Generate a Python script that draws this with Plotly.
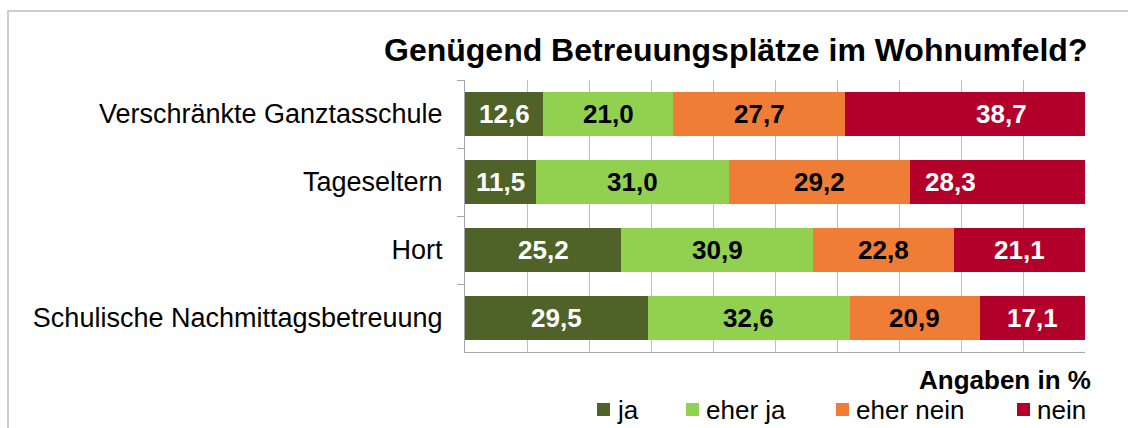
import plotly.graph_objects as go

# Survey answers per childcare type (percent)
categories = [
    "Verschränkte Ganztasschule",
    "Tageseltern",
    "Hort",
    "Schulische Nachmittagsbetreuung",
]
series_names = ["ja", "eher ja", "eher nein", "nein"]
ja = [12.6, 11.5, 25.2, 29.5]
eher_ja = [21.0, 31.0, 30.9, 32.6]
eher_nein = [27.7, 29.2, 22.8, 20.9]
nein = [38.7, 28.3, 21.1, 17.1]

title_text = "Genügend Betreuungsplätze im Wohnumfeld?"
unit_text = "Angaben in %"

series_values = [ja, eher_ja, eher_nein, nein]
colors = ["#4F6228", "#92D050", "#EF7D36", "#B3002A"]
label_colors = ["white", "black", "black", "white"]
FONT = "Liberation Sans, Arial, sans-serif"

W, H = 1128, 428
ML, MR, MT, MB = 465, 43, 80, 76
PW, PH = W - ML - MR, H - MT - MB


def px_x(x):
    return (x - ML) / PW


def px_y(y):
    return (H - MB - y) / PH


fig = go.Figure()
for name, vals, col in zip(series_names, series_values, colors):
    fig.add_trace(go.Bar(
        y=categories, x=vals, name=name, orientation="h",
        marker=dict(color=col, line=dict(width=0)),
        hoverinfo="x+name", showlegend=False,
    ))

# value labels centred in each segment (two of them nudged sideways)
label_shift = {(0, 3): 36, (1, 3): -47}
annotations = []
for ci, cat in enumerate(categories):
    start = 0.0
    for si, vals in enumerate(series_values):
        v = vals[ci]
        annotations.append(dict(
            x=start + v / 2, y=cat, xref="x", yref="y",
            text=f"{v:.1f}".replace(".", ","), showarrow=False,
            xshift=label_shift.get((ci, si), 0),
            font=dict(family=FONT, size=26, color=label_colors[si], weight="bold"),
        ))
        start += v

annotations.append(dict(
    x=px_x(1089), y=px_y(50), xref="paper", yref="paper",
    xanchor="right", yanchor="middle", text=title_text, showarrow=False,
    font=dict(family=FONT, size=32, color="black", weight="bold"),
))
annotations.append(dict(
    x=px_x(1093), y=px_y(380), xref="paper", yref="paper",
    xanchor="right", yanchor="middle", text=unit_text, showarrow=False,
    font=dict(family=FONT, size=26, color="black", weight="bold"),
))

# legend drawn as coloured squares with text
shapes = []
legend_square_x = [597, 686, 836, 1017]
for name, col, sx in zip(series_names, colors, legend_square_x):
    shapes.append(dict(
        type="rect", xref="paper", yref="paper",
        x0=px_x(sx), x1=px_x(sx + 13), y0=px_y(416), y1=px_y(403),
        fillcolor=col, line=dict(width=0),
    ))
    annotations.append(dict(
        x=px_x(sx + 18), y=px_y(410), xref="paper", yref="paper",
        xanchor="left", yanchor="middle", text=name, showarrow=False,
        font=dict(family=FONT, size=26, color="black"),
    ))

# outer chart frame
shapes.append(dict(
    type="rect", xref="paper", yref="paper",
    x0=px_x(8), x1=px_x(1140), y0=px_y(440), y1=px_y(11),
    line=dict(color="#BFBFBF", width=1.5), fillcolor="rgba(0,0,0,0)", layer="below",
))

fig.update_layout(
    width=W, height=H,
    margin=dict(l=ML, r=MR, t=MT, b=MB, pad=0),
    barmode="stack", bargap=0.34,
    paper_bgcolor="white", plot_bgcolor="white",
    font=dict(family=FONT, size=26, color="black"),
    annotations=annotations, shapes=shapes,
    xaxis=dict(
        range=[0, 100], dtick=10, showgrid=True, gridcolor="#BFBFBF", gridwidth=1,
        showticklabels=False, zeroline=False, showline=True, linecolor="#A6A6A6",
        linewidth=1, ticks="",
    ),
    yaxis=dict(
        autorange="reversed", showline=True, linecolor="#A6A6A6", linewidth=1,
        ticks="outside", tickson="boundaries", ticklen=7, tickcolor="#A6A6A6",
        ticklabelstandoff=16, showgrid=False, zeroline=False,
        tickfont=dict(family=FONT, size=27, color="black"),
    ),
)

fig.write_html("out.html")
